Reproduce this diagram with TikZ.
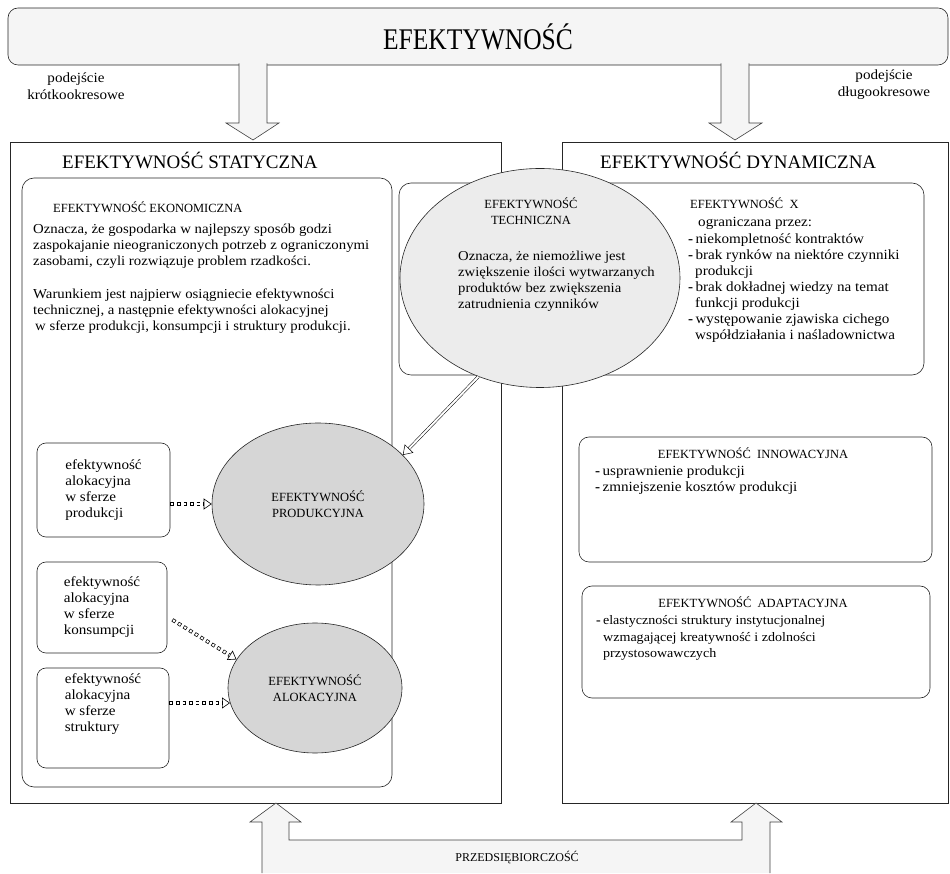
\documentclass[tikz,border=0pt]{standalone}
\usepackage{fontspec}
\setmainfont{Liberation Serif}
\newfontfamily\narrowfont[FakeStretch=0.85]{Liberation Serif}
\newfontfamily\bodyfont[FakeStretch=1.08]{Liberation Serif}
\usetikzlibrary{arrows.meta,shapes.geometric}

\newcommand{\bul}{\textbf{-}\,}
\newcommand{\cont}{\hspace*{7pt}}

\begin{document}
\begin{tikzpicture}[x=1pt,y=1pt,
  txt/.style={font=\bodyfont\fontsize{14}{16}\selectfont, inner sep=0pt, align=left},
  hd/.style={font=\fontsize{12.5}{16}\selectfont, inner sep=0pt, align=center},
  bigtitle/.style={font=\fontsize{19}{22}\selectfont, inner sep=0pt},
  frame/.style={draw=black!85, line width=0.6pt},
  softbox/.style={frame, fill=white, rounded corners=12pt},
  smallbox/.style={frame, fill=white, rounded corners=9pt, align=left,
    font=\bodyfont\fontsize{14}{16}\selectfont},
  oval/.style={ellipse, frame, inner sep=0pt, align=center},
  blockarrow/.style={draw=black!75, line width=0.6pt, fill=gray!8},
  dotarrow/.style={draw=black, line width=3.6pt, dash pattern=on 3.6pt off 3pt,
    -{Triangle[open, length=8pt, width=11pt, line width=0.6pt]},
    postaction={draw=white, line width=2.2pt, dash pattern=on 2.2pt off 4.4pt,
      dash phase=-0.7pt, arrows=-, shorten >=8pt}},
  dblarrow/.style={draw=black, line width=0.5pt, double=white, double distance=2pt,
    -{Triangle[open, length=9pt, width=12pt]}}]
  \useasboundingbox (0,0) rectangle (950,873);

  % Naglowek
  \node[frame, fill=gray!8, rounded corners=10pt, minimum width=940, minimum height=57,
    font=\narrowfont\fontsize{30}{32}\selectfont] (banner) at (478,836.5) {EFEKTYWNOŚĆ};
  \node[txt, align=center, font=\bodyfont\fontsize{14}{17}\selectfont] (shortrun) at (76,786.5) {podejście\\krótkookresowe};
  \node[txt, align=center, font=\bodyfont\fontsize{14}{17}\selectfont] (longrun) at (884,788.5) {podejście\\długookresowe};

  % Strzalki w dol
  \draw[blockarrow] (239,809.5) -- (239,750) -- (226,750) -- (253,733) -- (279,750) -- (267,750) -- (267,809.5);
  \draw[blockarrow] (721,809.5) -- (721,750) -- (709,750) -- (735,733) -- (762,750) -- (749,750) -- (749,809.5);

  % Dwa glowne bloki
  \node[frame, minimum width=491, minimum height=661] (statbox) at (255.5,400.5) {};
  \node[frame, minimum width=386, minimum height=661] (dynbox) at (755,400.5) {};
  \node[bigtitle, anchor=west] (stattitle) at (62,713) {EFEKTYWNOŚĆ STATYCZNA};
  \node[bigtitle, anchor=west] (dyntitle) at (600,713) {EFEKTYWNOŚĆ DYNAMICZNA};

  % Efektywnosc ekonomiczna
  \node[softbox, minimum width=370, minimum height=609] (econbox) at (207,390.5) {};
  \node[hd, anchor=west] (econtitle) at (53,666) {EFEKTYWNOŚĆ EKONOMICZNA};
  \node[txt, anchor=west, font=\bodyfont\fontsize{13.7}{16}\selectfont] (econtext) at (33,627) {Oznacza, że gospodarka w najlepszy sposób godzi\\
    zaspokajanie nieograniczonych potrzeb z ograniczonymi\\
    zasobami, czyli rozwiązuje problem rzadkości.};
  \node[txt, anchor=west, font=\bodyfont\fontsize{13.7}{16}\selectfont] (econcond) at (33,562) {Warunkiem jest najpierw osiągniecie efektywności\\
    technicznej, a następnie efektywności alokacyjnej\\
    \hspace*{2pt}w sferze produkcji, konsumpcji i struktury produkcji.};

  % Efektywnosc X i techniczna
  \node[softbox, minimum width=525, minimum height=192] (xbox) at (661.5,594) {};
  \node[oval, fill=gray!15, minimum width=280, minimum height=219] (tech) at (540,595) {};
  \node[hd] (techtitle) at (531,662) {EFEKTYWNOŚĆ\\TECHNICZNA};
  \node[txt, anchor=west, font=\bodyfont\fontsize{13.6}{16}\selectfont] (techtext) at (458,592) {Oznacza, że niemożliwe jest\\
    zwiększenie ilości wytwarzanych\\
    produktów bez zwiększenia\\
    zatrudnienia czynników};
  \node[hd, anchor=west] (xtitle) at (690,670) {EFEKTYWNOŚĆ\ \ X};
  \node[txt, anchor=west] (xlimit) at (698,650) {ograniczana przez:};
  \node[txt, anchor=west] (xlist) at (688,585) {\bul niekompletność kontraktów\\
    \bul brak rynków na niektóre czynniki\\
    \cont produkcji\\
    \bul brak dokładnej wiedzy na temat\\
    \cont funkcji produkcji\\
    \bul występowanie zjawiska cichego\\
    \cont współdziałania i naśladownictwa};

  % Efektywnosc produkcyjna i alokacyjna
  \node[oval, fill=gray!32, minimum width=212, minimum height=162, font=\fontsize{12.5}{16}\selectfont] (prod) at (318,369) {EFEKTYWNOŚĆ\\PRODUKCYJNA};
  \node[oval, fill=gray!32, minimum width=174, minimum height=130, font=\fontsize{12.5}{16}\selectfont] (alok) at (315,185) {EFEKTYWNOŚĆ\\ALOKACYJNA};
  \node[smallbox, minimum width=133, minimum height=94] (allocprod) at (103.5,383) {efektywność\\alokacyjna\\w sferze\\produkcji};
  \node[smallbox, minimum width=130, minimum height=91] (alloccons) at (102,265.5) {efektywność\\alokacyjna\\w sferze\\konsumpcji};
  \node[smallbox, minimum width=132, minimum height=100] (allocstruct) at (103,155) {efektywność\\alokacyjna\\w sferze\\struktury\\[14pt]};

  % Polaczenia
  \draw[dblarrow] (tech.238) -- (prod.30);
  \draw[dotarrow] (allocprod.east |- prod.west) -- (prod.west);
  \draw[dotarrow, shorten <=6pt] (alloccons.-8) -- (alok.160);
  \draw[dotarrow] (allocstruct.east |- alok.190) -- (alok.190);

  % Efektywnosc innowacyjna i adaptacyjna
  \node[softbox, rounded corners=10pt, minimum width=353, minimum height=125] (innobox) at (755.5,373.5) {};
  \node[hd] (innotitle) at (753,420) {EFEKTYWNOŚĆ\ \ INNOWACYJNA};
  \node[txt, anchor=west] (innolist) at (595,393) {\bul usprawnienie produkcji\\
    \bul zmniejszenie kosztów produkcji};
  \node[softbox, rounded corners=10pt, minimum width=348, minimum height=112] (adaptbox) at (756,231) {};
  \node[hd] (adapttitle) at (753,271) {EFEKTYWNOŚĆ\ \ ADAPTACYJNA};
  \node[txt, anchor=west, font=\bodyfont\fontsize{13}{16.5}\selectfont] (adaptlist) at (596,235) {\bul elastyczności struktury instytucjonalnej\\
    \cont wzmagającej kreatywność i zdolności\\
    \cont przystosowawczych};

  % Przedsiebiorczosc
  \draw[blockarrow] (262,0) -- (262,51) -- (250,51) -- (276,70) -- (301,51) -- (289,51) -- (289,33)
    -- (742,33) -- (742,51) -- (731,51) -- (756,70) -- (782,51) -- (770,51) -- (770,0);
  \node[font=\fontsize{12}{14}\selectfont, inner sep=0pt] (entre) at (517,15) {PRZEDSIĘBIORCZOŚĆ};
\end{tikzpicture}
\end{document}
